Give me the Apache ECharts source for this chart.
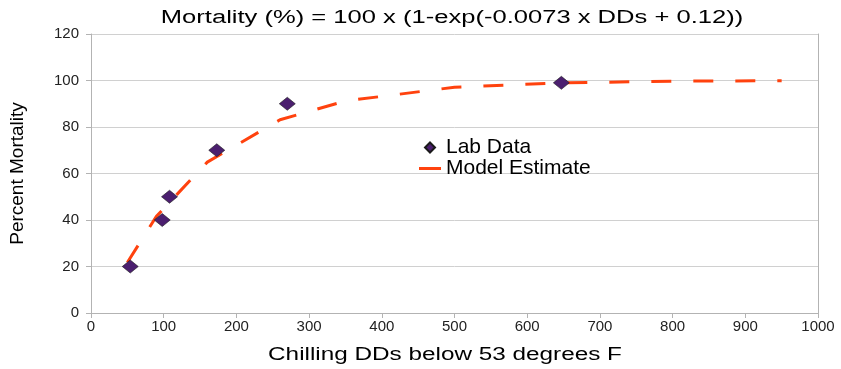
<!DOCTYPE html>
<html>
<head>
<meta charset="utf-8">
<script src="https://cdn.jsdelivr.net/npm/echarts@6/dist/echarts.min.js"></script>
<style>
html,body{margin:0;padding:0;background:#fff;}
#chart{width:841px;height:369px;}
</style>
</head>
<body>
<div id="chart"></div>
<script>
var titleText = 'Mortality (%) = 100 x (1-exp(-0.0073 x DDs + 0.12))';
var xAxisName = 'Chilling DDs below 53 degrees F';
var yAxisName = 'Percent Mortality';

var labX = [54, 98, 108, 173, 270, 647];
var labY = [20, 40, 50, 70, 90, 99];

var modelX = [50, 90, 160, 260, 350, 500, 650, 800, 950];
var modelY = [21.7, 41.6, 64.9, 83.1, 91.2, 97.1, 99.0, 99.7, 99.9];

var xTicks = [0, 100, 200, 300, 400, 500, 600, 700, 800, 900, 1000];
var yTicks = [0, 20, 40, 60, 80, 100, 120];

var FONT = '"Liberation Sans", Arial, sans-serif';

function pairs(xs, ys) { return xs.map(function (x, i) { return [x, ys[i]]; }); }

var chart = echarts.init(document.getElementById('chart'), null, {renderer: 'canvas'});
chart.setOption({
  backgroundColor: '#ffffff',
  animation: false,
  textStyle: {fontFamily: FONT},
  graphic: [{
    type: 'text',
    x: 452, y: 18,
    scaleX: 1.42,
    style: {
      text: titleText,
      font: '18px ' + FONT,
      fill: '#000',
      textAlign: 'center',
      textVerticalAlign: 'middle'
    }
  }, {
    type: 'text',
    x: 445, y: 355,
    scaleX: 1.35,
    style: {
      text: xAxisName,
      font: '18px ' + FONT,
      fill: '#000',
      textAlign: 'center',
      textVerticalAlign: 'middle'
    }
  }],
  legend: {
    orient: 'vertical',
    left: 414, top: 132,
    itemWidth: 22, itemHeight: 10, itemGap: 0,
    textStyle: {fontFamily: FONT, fontSize: 21, color: '#000'},
    data: [
      {name: 'Lab Data', icon: 'path://M5,0L10,5L5,10L0,5Z'},
      {name: 'Model Estimate', icon: 'path://M0,0L22,0L22,3L0,3Z'}
    ]
  },
  grid: {left: 91, right: 23, top: 34, bottom: 56},
  xAxis: {
    type: 'value', min: xTicks[0], max: xTicks[xTicks.length - 1], interval: 100,
    axisLine: {show: true, lineStyle: {color: '#b3b3b3', width: 1}},
    axisTick: {show: true, inside: false, length: 5, lineStyle: {color: '#b3b3b3'}},
    axisLabel: {fontFamily: FONT, fontSize: 15, color: '#222', margin: 6,
      formatter: function (v) { return String(v); }},
    splitLine: {show: false}
  },
  yAxis: [{
    type: 'value', min: yTicks[0], max: yTicks[yTicks.length - 1], interval: 20,
    name: yAxisName, nameLocation: 'middle', nameGap: 64, nameRotate: 90,
    nameTextStyle: {fontFamily: FONT, fontSize: 19, color: '#000'},
    axisLine: {show: true, lineStyle: {color: '#b3b3b3', width: 1}},
    axisTick: {show: true, inside: false, length: 5, lineStyle: {color: '#b3b3b3'}},
    axisLabel: {fontFamily: FONT, fontSize: 15, color: '#222', margin: 12},
    splitLine: {show: true, lineStyle: {color: '#d0d0d0', width: 1}}
  }, {
    type: 'value', position: 'right', min: 0, max: 120, interval: 20,
    axisLine: {show: true, lineStyle: {color: '#b3b3b3', width: 1}},
    axisTick: {show: false}, axisLabel: {show: false}, splitLine: {show: false}
  }],
  series: [{
    name: 'Model Estimate',
    type: 'line',
    data: pairs(modelX, modelY),
    symbol: 'none',
    z: 2,
    lineStyle: {color: '#ff420e', width: 3, type: [20, 22]},
    itemStyle: {color: '#ff420e'}
  }, {
    name: 'Lab Data',
    type: 'scatter',
    data: pairs(labX, labY),
    symbol: 'diamond',
    symbolSize: [16, 13],
    z: 3,
    itemStyle: {color: '#4b1f6f', borderColor: '#1a1a1a', borderWidth: 0.6, opacity: 1}
  }]
});
</script>
</body>
</html>
